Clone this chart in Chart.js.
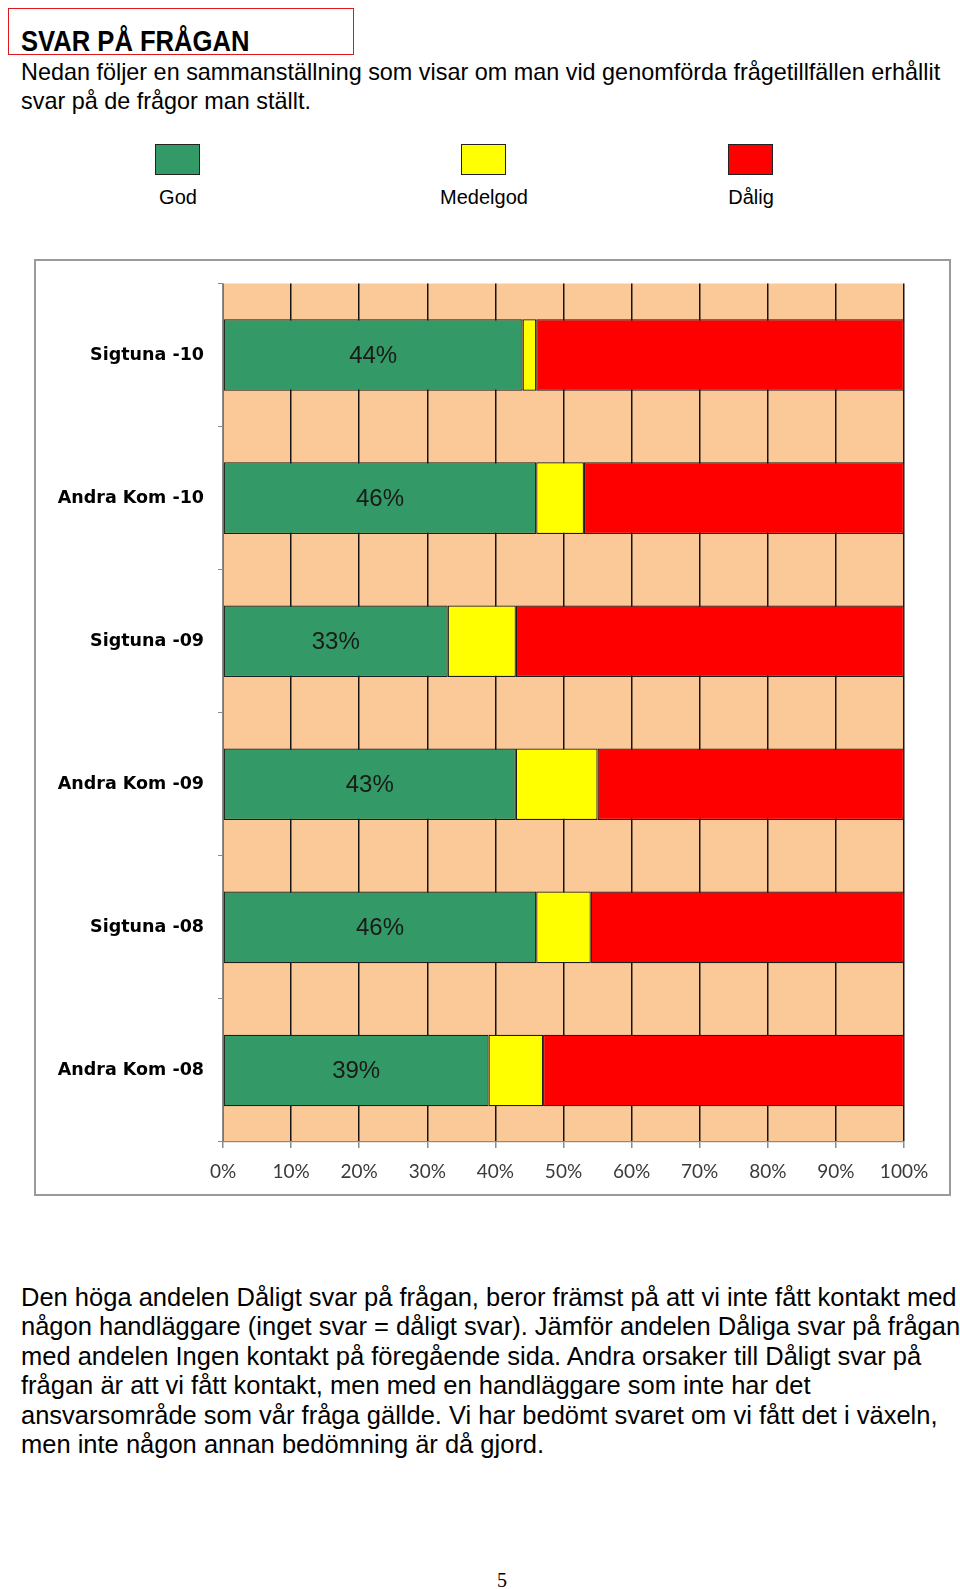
<!DOCTYPE html>
<html>
<head>
<meta charset="utf-8">
<script src="https://cdn.jsdelivr.net/npm/chart.js@4.4.1/dist/chart.umd.min.js"></script>
<style>
  body { margin: 0; background: #fff; width: 960px; height: 1589px; position: relative; font-family: "Liberation Sans", Arial, sans-serif; color: #000; }
  .abs { position: absolute; white-space: nowrap; }
  #titlebox { left: 8px; top: 8px; width: 344px; height: 45px; border: 1.5px solid #e0181b; }
  #title { left: 21px; top: 27px; font-size: 25.6px; line-height: 30px; font-weight: bold; transform: scaleY(1.12); transform-origin: 0 24px; }
  .intro { left: 21px; font-size: 23.4px; line-height: 29px; }
  #frame { left: 34px; top: 259px; width: 917px; height: 937px; border: 2px solid #9a9a9a; box-sizing: border-box; }
  #chartWrap { left: 34px; top: 259px; width: 918px; height: 938px; }
  .legSq { width: 45px; height: 31px; border: 1.5px solid #222; box-sizing: border-box; }
  .legLbl { font-size: 20px; transform: translateX(-50%); }
  #para { left: 21px; top: 1283px; font-size: 25.5px; line-height: 29.4px; }
  #page { left: 497px; top: 1569px; font-family: "Liberation Serif", serif; font-size: 20px; }
</style>
</head>
<body>
<div id="titlebox" class="abs"></div>
<div id="title" class="abs">SVAR PÅ FRÅGAN</div>
<div class="abs intro" style="top:58px">Nedan följer en sammanställning som visar om man vid genomförda frågetillfällen erhållit</div>
<div class="abs intro" style="top:87px">svar på de frågor man ställt.</div>

<div id="legend"></div>

<div id="frame" class="abs"></div>
<div id="chartWrap" class="abs"><canvas id="chart" width="918" height="938"></canvas></div>

<div id="para" class="abs">Den höga andelen Dåligt svar på frågan, beror främst på att vi inte fått kontakt med<br>någon handläggare (inget svar = dåligt svar). Jämför andelen Dåliga svar på frågan<br>med andelen Ingen kontakt på föregående sida. Andra orsaker till Dåligt svar på<br>frågan är att vi fått kontakt, men med en handläggare som inte har det<br>ansvarsområde som vår fråga gällde. Vi har bedömt svaret om vi fått det i växeln,<br>men inte någon annan bedömning är då gjord.</div>
<div id="page" class="abs">5</div>

<script>
// values (percent of answers)
const categories = ['Sigtuna -10', 'Andra Kom -10', 'Sigtuna -09', 'Andra Kom -09', 'Sigtuna -08', 'Andra Kom -08'];
const god = [44, 46, 33, 43, 46, 39];
const medelgod = [2, 7, 10, 12, 8, 8];
const dalig = [54, 47, 57, 45, 46, 53];
const seriesNames = ['God', 'Medelgod', 'Dålig'];
const seriesColors = ['#339966', '#ffff00', '#ff0000'];
const xTicks = [0, 10, 20, 30, 40, 50, 60, 70, 80, 90, 100];

// legend above the chart: square with label underneath
const legendX = [178, 484, 751];
const legend = document.getElementById('legend');
seriesNames.forEach((name, i) => {
  const sq = document.createElement('div');
  sq.className = 'abs legSq';
  sq.style.left = (legendX[i] - 23) + 'px';
  sq.style.top = '144px';
  sq.style.background = seriesColors[i];
  legend.appendChild(sq);
  const lbl = document.createElement('div');
  lbl.className = 'abs legLbl';
  lbl.style.left = legendX[i] + 'px';
  lbl.style.top = '186px';
  lbl.textContent = name;
  legend.appendChild(lbl);
});

// peach plot background
const plotBg = {
  id: 'plotBg',
  beforeDraw(chart) {
    const { ctx, chartArea: a } = chart;
    ctx.save();
    ctx.fillStyle = '#fbc997';
    ctx.fillRect(a.left, a.top, a.right - a.left, a.bottom - a.top);
    ctx.restore();
  }
};

// percentage label in the middle of the green bar
const godLabels = {
  id: 'godLabels',
  afterDatasetsDraw(chart) {
    const { ctx } = chart;
    const meta = chart.getDatasetMeta(0);
    ctx.save();
    ctx.font = '24px "Liberation Sans", Arial, sans-serif';
    ctx.fillStyle = '#1a1a1a';
    ctx.textAlign = 'center';
    ctx.textBaseline = 'middle';
    meta.data.forEach((bar, i) => {
      const cx = (bar.x + bar.base) / 2;
      ctx.fillText(god[i] + '%', cx, bar.y + 1);
    });
    ctx.restore();
  }
};

const mkSet = (i, data) => ({
  label: seriesNames[i],
  data: data,
  backgroundColor: seriesColors[i],
  borderColor: '#1e1e1e',
  borderWidth: 1.2,
  borderSkipped: false,
  categoryPercentage: 0.5,
  barPercentage: 1.0
});

new Chart(document.getElementById('chart'), {
  type: 'bar',
  data: {
    labels: categories,
    datasets: [mkSet(0, god), mkSet(1, medelgod), mkSet(2, dalig)]
  },
  options: {
    indexAxis: 'y',
    responsive: false,
    animation: false,
    layout: { padding: { top: 23, right: 48, left: 0, bottom: 0 } },
    plugins: { legend: { display: false }, tooltip: { enabled: false } },
    scales: {
      x: {
        stacked: true,
        min: 0,
        max: 100,
        afterBuildTicks: (s) => { s.ticks = xTicks.map(v => ({ value: v })); },
        afterFit: (s) => { s.height = 55; },
        grid: { color: '#141414', lineWidth: 1.5, tickColor: '#8a8a8a', tickLength: 6 },
        border: { color: '#8a8a8a', width: 1.2 },
        ticks: {
          padding: 12,
          color: '#3a3a3a',
          font: { family: 'Lato', size: 19 },
          callback: (v) => v + '%'
        }
      },
      y: {
        stacked: true,
        afterFit: (s) => { s.width = 189; },
        grid: { drawOnChartArea: false, tickColor: '#8a8a8a', tickLength: 5 },
        border: { color: '#8a8a8a', width: 1.2 },
        ticks: {
          padding: 14,
          color: '#000',
          font: { family: '"DejaVu Sans"', size: 17.5, weight: 'bold' }
        }
      }
    }
  },
  plugins: [plotBg, godLabels]
});
</script>
</body>
</html>
